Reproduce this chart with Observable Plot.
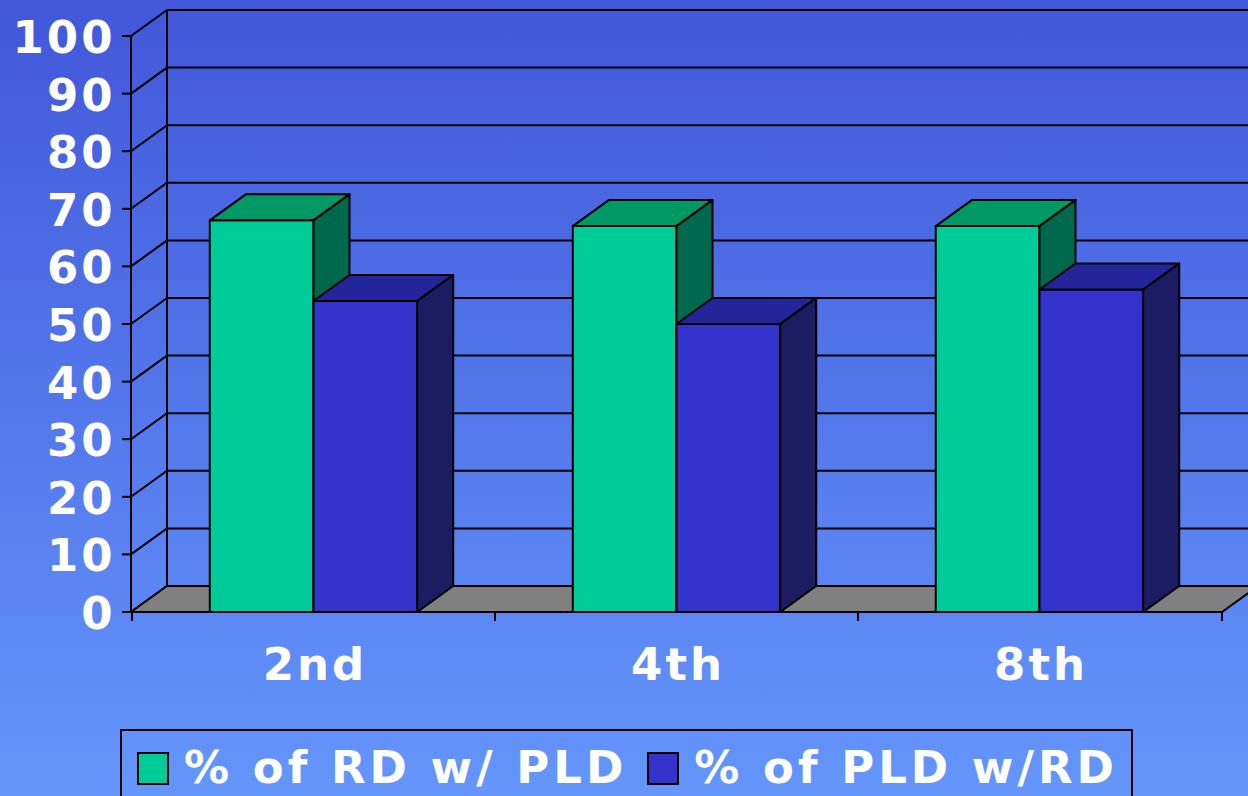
<!DOCTYPE html>
<html>
<head>
<meta charset="utf-8">
<script src="https://cdn.jsdelivr.net/npm/d3@7"></script>
<script src="https://cdn.jsdelivr.net/npm/@observablehq/plot@0.6"></script>
<style>
  html, body { margin: 0; padding: 0; }
  body {
    width: 1248px; height: 796px; overflow: hidden; position: relative;
    background: linear-gradient(to bottom, #4257DA 0%, #6496FB 100%);
    font-family: "DejaVu Sans", sans-serif; font-weight: bold; color: #fff;
  }
  #chart svg { display: block; }
  .legend {
    position: absolute; left: 120px; top: 729px; width: 1013px; height: 100px;
    border: 2px solid #000; box-sizing: border-box;
    display: flex; align-items: flex-start; padding-top: 20px; padding-left: 15px;
    font-size: 45px; line-height: 34px; white-space: nowrap; letter-spacing: 4px;
  }
  .sw { width: 28px; height: 29px; border: 2px solid #000; margin-right: 15px; flex: none; }
  .item { display: flex; align-items: center; margin-right: 20px; }
</style>
</head>
<body>
<div id="chart"></div>
<div class="legend" id="legend"></div>
<script>
const grades = ["2nd", "4th", "8th"];
const seriesNames = ["% of RD w/ PLD", "% of PLD w/RD"];
const rdWithPld = [68, 67, 67];
const pldWithRd = [54, 50, 56];
const yTicks = [0, 10, 20, 30, 40, 50, 60, 70, 80, 90, 100];

const frontColors = ["#00CC99", "#3333CC"];
const topColors = ["#009966", "#25259B"];
const sideColors = ["#00684C", "#1C1C63"];

const rows = [];
grades.forEach((g, i) => {
  rows.push({grade: g, series: seriesNames[0], si: 0, value: rdWithPld[i]});
  rows.push({grade: g, series: seriesNames[1], si: 1, value: pldWithRd[i]});
});

const DX = 36, DY = -26;

function walls(index, scales, values, dim) {
  const {x, y} = scales;
  const g = d3.create("svg:g").attr("fill", "none").attr("stroke", "#000").attr("stroke-width", 2);
  const x0 = dim.marginLeft, x1 = dim.width - dim.marginRight;
  for (const t of yTicks) {
    g.append("line").attr("x1", x0 + DX).attr("x2", x1 + DX + 20)
      .attr("y1", y(t) + DY).attr("y2", y(t) + DY);
    g.append("line").attr("x1", x0).attr("y1", y(t))
      .attr("x2", x0 + DX).attr("y2", y(t) + DY);
  }
  g.append("line").attr("x1", x0 + DX).attr("x2", x0 + DX)
    .attr("y1", y(0) + DY).attr("y2", y(100) + DY);
  g.append("path")
    .attr("d", `M${x0},${y(0)}L${x1},${y(0)}L${x1 + DX},${y(0) + DY}L${x0 + DX},${y(0) + DY}Z`)
    .attr("fill", "#808080");
  return g.node();
}

function bars(index, scales, values, dim) {
  const {x, y} = scales;
  const step = x.bandwidth ? x.bandwidth() : (x(grades[1]) - x(grades[0]));
  const bw = step * 2 / 7;
  const g = d3.create("svg:g").attr("stroke", "#000").attr("stroke-width", 2).attr("stroke-linejoin", "round");
  for (const r of rows) {
    const l = x(r.grade) + step / 2 - bw + r.si * bw;
    const rt = l + bw;
    const top = y(r.value), bot = y(0);
    g.append("path").attr("fill", frontColors[r.si])
      .attr("d", `M${l},${bot}L${l},${top}L${rt},${top}L${rt},${bot}Z`);
    g.append("path").attr("fill", topColors[r.si])
      .attr("d", `M${l},${top}L${l + DX},${top + DY}L${rt + DX},${top + DY}L${rt},${top}Z`);
    g.append("path").attr("fill", sideColors[r.si])
      .attr("d", `M${rt},${top}L${rt + DX},${top + DY}L${rt + DX},${bot + DY}L${rt},${bot}Z`);
  }
  return g.node();
}

function axes(index, scales, values, dim) {
  const {x, y} = scales;
  const g = d3.create("svg:g").attr("fill", "none").attr("stroke", "#000").attr("stroke-width", 2);
  const x0 = dim.marginLeft, x1 = dim.width - dim.marginRight;
  g.append("line").attr("x1", x0).attr("x2", x0).attr("y1", y(0)).attr("y2", y(100));
  for (const t of yTicks) {
    g.append("line").attr("x1", x0 - 9).attr("x2", x0).attr("y1", y(t)).attr("y2", y(t));
  }
  g.append("line").attr("x1", x0).attr("x2", x1).attr("y1", y(0)).attr("y2", y(0));
  const xs = grades.map(d => x(d)).concat([x1]);
  for (const xv of xs) {
    g.append("line").attr("x1", xv).attr("x2", xv).attr("y1", y(0)).attr("y2", y(0) + 9);
  }
  return g.node();
}

const chart = Plot.plot({
  width: 1248,
  height: 720,
  marginLeft: 131,
  marginRight: 26,
  marginTop: 36,
  marginBottom: 108,
  x: {type: "band", domain: grades, paddingInner: 0, paddingOuter: 0, axis: null},
  y: {domain: [0, 100], axis: null},
  style: {
    background: "transparent",
    fontFamily: "'DejaVu Sans', sans-serif",
    fontWeight: "bold",
    fontSize: "45px",
    letterSpacing: "3px",
    overflow: "visible"
  },
  marks: [
    walls,
    bars,
    axes,
    Plot.text(yTicks, {y: d => d, frameAnchor: "left", dx: -16, dy: 2, textAnchor: "end", fill: "white"}),
    Plot.text(grades, {x: d => d, frameAnchor: "bottom", dx: 1, dy: 67, fill: "white"})
  ]
});
document.getElementById("chart").appendChild(chart);

const legend = document.getElementById("legend");
seriesNames.forEach((name, i) => {
  const item = document.createElement("div");
  item.className = "item";
  const sw = document.createElement("div");
  sw.className = "sw";
  sw.style.background = frontColors[i];
  const t = document.createElement("span");
  t.textContent = name;
  item.appendChild(sw);
  item.appendChild(t);
  legend.appendChild(item);
});
</script>
</body>
</html>
